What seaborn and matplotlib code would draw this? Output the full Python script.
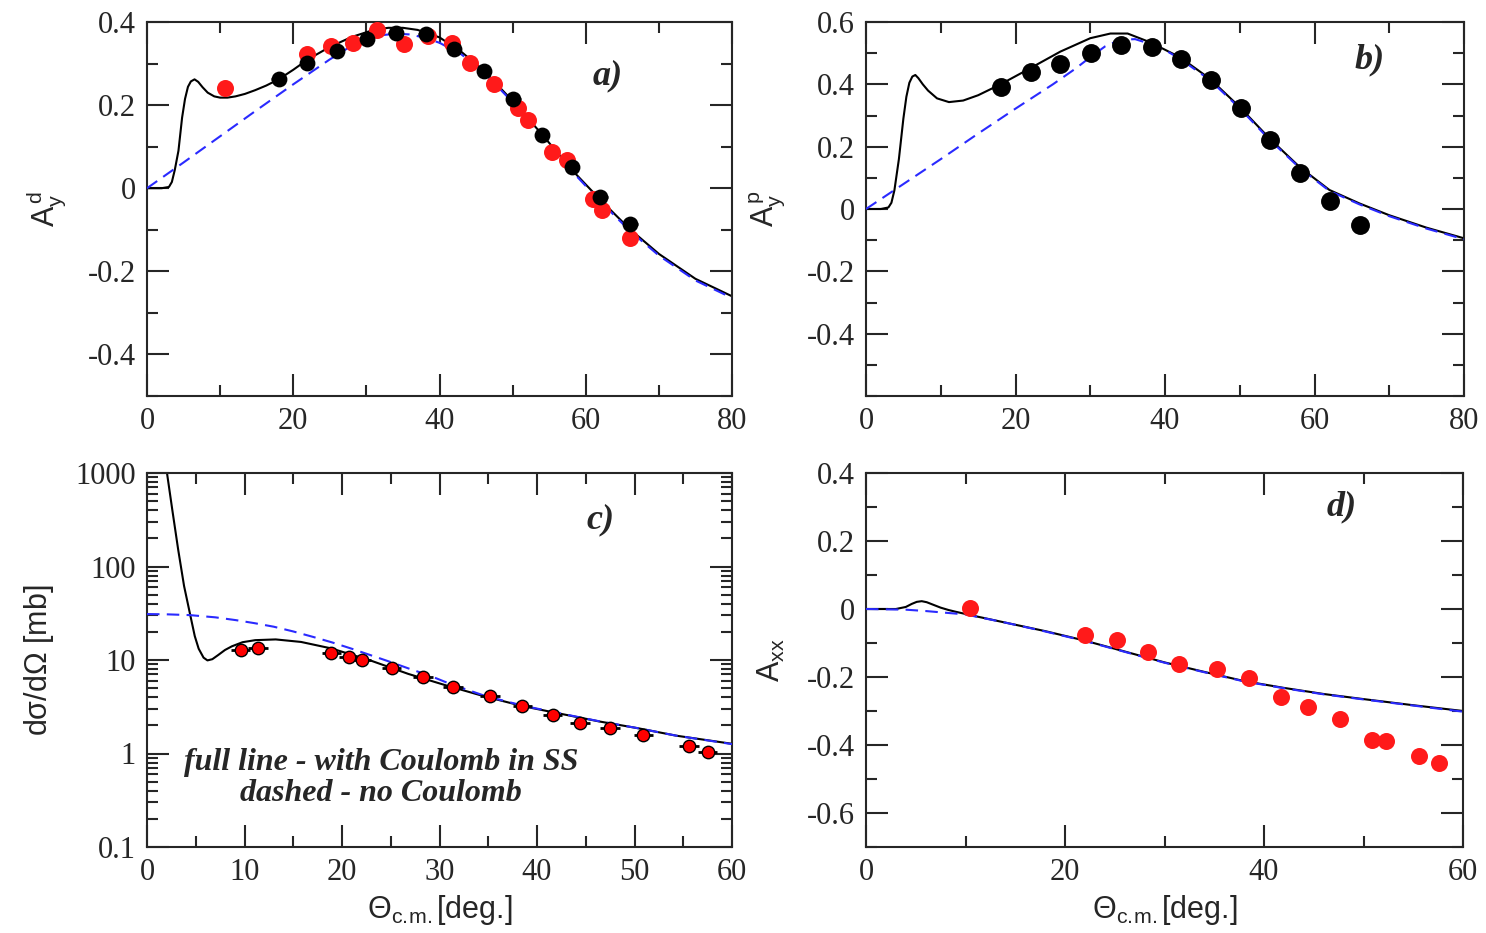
import numpy as np
import pandas as pd
import matplotlib
matplotlib.use("Agg")
import matplotlib.pyplot as plt
import seaborn as sns
from matplotlib.ticker import MultipleLocator, FixedLocator, LogLocator, NullFormatter

# ---------------- panel a) A_y^d ----------------
a_red_x = [10.6, 21.9, 25.1, 28.2, 31.4, 35.2, 38.4, 41.7, 44.2, 47.5, 50.7, 52.1, 55.4, 57.4, 61.0, 62.2, 66.0]
a_red_y = [0.242, 0.324, 0.342, 0.350, 0.380, 0.348, 0.366, 0.350, 0.302, 0.250, 0.194, 0.164, 0.086, 0.068, -0.026, -0.052, -0.120]
a_blk_x = [18.0, 21.9, 26.0, 30.1, 34.0, 38.1, 42.0, 46.1, 50.1, 54.0, 58.1, 62.0, 66.1]
a_blk_y = [0.262, 0.302, 0.330, 0.358, 0.374, 0.370, 0.336, 0.282, 0.214, 0.128, 0.050, -0.020, -0.086]
a_blk_xerr = [1.0] * 13
a_full_x = [0, 2, 3, 3.4, 3.8, 4.3, 4.8, 5.2, 5.6, 6.0, 6.5, 7.0, 7.6, 8.3, 9.2, 10, 11, 12.1, 13.4, 14.8, 16.3, 18, 20, 22, 25, 28, 31, 33, 35, 37, 40, 43, 46, 50, 54, 58, 62, 66, 70, 75, 80]
a_full_y = [0, 0, 0.003, 0.015, 0.044, 0.09, 0.17, 0.215, 0.244, 0.257, 0.262, 0.256, 0.243, 0.23, 0.221, 0.218, 0.218, 0.221, 0.227, 0.236, 0.247, 0.262, 0.285, 0.31, 0.34, 0.364, 0.381, 0.386, 0.386, 0.381, 0.363, 0.328, 0.284, 0.21, 0.13, 0.046, -0.028, -0.098, -0.158, -0.218, -0.26]
a_dash_x = [0, 5, 10, 15, 20, 25, 28, 30, 32, 34, 36, 38, 40, 43, 46, 50, 54, 58, 62, 66, 70, 75, 80]
a_dash_y = [0, 0.062, 0.125, 0.188, 0.25, 0.31, 0.343, 0.359, 0.368, 0.372, 0.37, 0.362, 0.35, 0.322, 0.28, 0.207, 0.127, 0.043, -0.032, -0.102, -0.162, -0.222, -0.264]

# ---------------- panel b) A_y^p ----------------
b_blk_x = [18.1, 22.1, 26.0, 30.1, 34.1, 38.2, 42.1, 46.1, 50.2, 54.1, 58.1, 62.1, 66.1]
b_blk_y = [0.393, 0.439, 0.466, 0.501, 0.527, 0.519, 0.482, 0.413, 0.324, 0.221, 0.117, 0.026, -0.051]
b_blk_xerr = [0.9] * 13
b_full_x = [0, 2, 3, 3.4, 3.8, 4.4, 5.0, 5.4, 5.8, 6.2, 6.6, 7.0, 7.6, 8.3, 9.5, 11.1, 13, 15, 18, 22, 26, 30, 32.7, 35, 38, 42, 46, 50, 54, 58, 62, 66, 70, 75, 80]
b_full_y = [0, 0, 0.005, 0.02, 0.06, 0.16, 0.29, 0.36, 0.405, 0.425, 0.43, 0.42, 0.40, 0.38, 0.355, 0.343, 0.348, 0.365, 0.40, 0.452, 0.505, 0.548, 0.563, 0.563, 0.535, 0.487, 0.418, 0.327, 0.226, 0.135, 0.061, 0.018, -0.02, -0.06, -0.094]
b_dash_x = [0, 5, 10, 15, 20, 25, 28, 30, 32, 34, 36, 38, 40, 42, 46, 50, 54, 58, 62, 66, 70, 75, 80]
b_dash_y = [0, 0.08, 0.16, 0.242, 0.322, 0.40, 0.45, 0.487, 0.522, 0.543, 0.545, 0.53, 0.51, 0.482, 0.414, 0.323, 0.222, 0.132, 0.058, 0.015, -0.023, -0.063, -0.097]

# ---------------- panel c) dsigma/dOmega ----------------
c_pts_x = [9.6, 11.4, 18.9, 20.7, 22.0, 25.1, 28.3, 31.4, 35.2, 38.5, 41.6, 44.4, 47.5, 50.9, 55.6, 57.5]
c_pts_y = [12.9, 13.5, 12.0, 10.8, 9.9, 8.2, 6.6, 5.1, 4.1, 3.2, 2.56, 2.1, 1.86, 1.57, 1.19, 1.04]
c_pts_xerr = [1.0] * 16
c_full_x = [1.9, 2.05, 2.6, 3.2, 3.8, 4.4, 4.9, 5.3, 5.8, 6.2, 6.7, 7.3, 8.0, 8.7, 9.8, 11.1, 13.2, 15.8, 18.9, 22.9, 26.8, 30.7, 34.7, 38.6, 42.5, 46.4, 50.4, 54.3, 60]
c_full_y = [1500, 1000, 400, 151, 62, 31.5, 18, 13.2, 10.6, 9.9, 10.2, 11.3, 12.8, 14.0, 15.5, 16.3, 16.6, 15.6, 13.3, 9.9, 7.1, 5.34, 4.06, 3.2, 2.65, 2.2, 1.86, 1.55, 1.27]
c_dash_x = [0, 2, 4.4, 7, 9.1, 11, 13, 15, 17, 19, 21, 23, 25, 27, 29, 31, 34.7, 38.6, 42.5, 46.4, 50.4, 54.3, 60]
c_dash_y = [31, 30.8, 30.2, 28.6, 26.7, 24.8, 22.7, 20.2, 17.7, 15.4, 13.2, 11.2, 9.5, 8.0, 6.8, 5.6, 4.12, 3.24, 2.67, 2.21, 1.86, 1.55, 1.26]

# ---------------- panel d) A_xx ----------------
d_red_x = [10.5, 22.0, 25.2, 28.3, 31.5, 35.3, 38.5, 41.7, 44.4, 47.6, 50.9, 52.3, 55.6, 57.6]
d_red_y = [0.003, -0.076, -0.091, -0.125, -0.162, -0.176, -0.203, -0.26, -0.287, -0.323, -0.384, -0.389, -0.431, -0.454]
d_full_x = [0, 3, 4, 4.6, 5.1, 5.6, 6.1, 6.8, 7.5, 8.3, 9, 10.5, 14, 18, 22, 26, 30, 34, 38, 42, 46, 50, 55, 60]
d_full_y = [0, 0, 0.006, 0.015, 0.021, 0.023, 0.02, 0.012, 0.004, -0.003, -0.008, -0.018, -0.04, -0.065, -0.093, -0.125, -0.157, -0.185, -0.212, -0.232, -0.25, -0.265, -0.283, -0.3]
d_dash_x = [0, 4, 6, 8, 10, 14, 18, 22, 26, 30, 34, 38, 42, 46, 50, 55, 60]
d_dash_y = [0, -0.002, -0.006, -0.011, -0.016, -0.04, -0.066, -0.094, -0.126, -0.158, -0.186, -0.213, -0.233, -0.251, -0.266, -0.284, -0.302]

# tick labels
a_yticks = [-0.4, -0.2, 0, 0.2, 0.4]
a_ylabels = ["-0.4", "-0.2", "0", "0.2", "0.4"]
b_yticks = [-0.4, -0.2, 0, 0.2, 0.4, 0.6]
b_ylabels = ["-0.4", "-0.2", "0", "0.2", "0.4", "0.6"]
c_yticks = [0.1, 1, 10, 100, 1000]
c_ylabels = ["0.1", "1", "10", "100", "1000"]
d_yticks = [-0.6, -0.4, -0.2, 0, 0.2, 0.4]
d_ylabels = ["-0.6", "-0.4", "-0.2", "0", "0.2", "0.4"]
ab_xticks = [0, 20, 40, 60, 80]
c_xticks = [0, 10, 20, 30, 40, 50, 60]
d_xticks = [0, 20, 40, 60]

sns.set_style("ticks")
plt.rcParams["font.family"] = ["Liberation Serif", "DejaVu Serif"]
plt.rcParams["mathtext.fontset"] = "custom"
plt.rcParams["mathtext.rm"] = "Liberation Sans"
plt.rcParams["mathtext.it"] = "Liberation Sans"

fig = plt.figure(figsize=(14.86, 9.33), dpi=100)
W, H = 1486, 933


def make_ax(l, r, t, b):
    return fig.add_axes([l / W, 1 - b / H, (r - l) / W, (b - t) / H])


ax_a = make_ax(147, 732, 22, 396)
ax_b = make_ax(866, 1464, 22, 396)
ax_c = make_ax(147, 732, 473, 847)
ax_d = make_ax(866, 1463, 473, 847)

LAB = dict(family="Liberation Sans", fontsize=22)
XLAB = r"$\mathrm{\Theta_{c.\!m.}}$[deg.]"


def curves(ax, fx, fy, dx, dy):
    sns.lineplot(x=dx, y=dy, ax=ax, color="#2a2aff", lw=1.5, sort=False,
                 linestyle=(0, (6, 3.5)), zorder=3)
    sns.lineplot(x=fx, y=fy, ax=ax, color="black", lw=1.5, sort=False, zorder=2)


def style(ax):
    for s in ax.spines.values():
        s.set_linewidth(1.5)
    ax.tick_params(which="both", direction="in", top=True, right=True, width=1.5,
                   labelsize=22, pad=8)
    ax.tick_params(which="major", length=16)
    ax.tick_params(which="minor", length=8)


def label(ax, x, y, s):
    ax.text(x, y, s, fontsize=26, fontweight="bold", style="italic", ha="center", va="center")


# panel a
curves(ax_a, a_full_x, a_full_y, a_dash_x, a_dash_y)
ax_a.errorbar(a_blk_x, a_blk_y, xerr=a_blk_xerr, fmt="none", ecolor="black", elinewidth=1.8, zorder=4)
sns.scatterplot(x=a_red_x, y=a_red_y, ax=ax_a, color="#ff1a1a", s=150, linewidth=0, zorder=5)
sns.scatterplot(x=a_blk_x, y=a_blk_y, ax=ax_a, color="black", s=130, linewidth=0, zorder=6)
ax_a.set_xlim(0, 80)
ax_a.set_ylim(-0.5, 0.4)
ax_a.set_xticks(ab_xticks)
ax_a.set_yticks(a_yticks, a_ylabels)
ax_a.xaxis.set_minor_locator(MultipleLocator(10))
ax_a.yaxis.set_minor_locator(MultipleLocator(0.1))
ax_a.set_ylabel(r"$\mathrm{A_y^{\,d}}$", labelpad=14, **LAB)
label(ax_a, 63, 0.27, "a)")

# panel b
curves(ax_b, b_full_x, b_full_y, b_dash_x, b_dash_y)
ax_b.errorbar(b_blk_x, b_blk_y, xerr=b_blk_xerr, fmt="none", ecolor="black", elinewidth=1.8, zorder=4)
sns.scatterplot(x=b_blk_x, y=b_blk_y, ax=ax_b, color="black", s=185, linewidth=0, zorder=6)
ax_b.set_xlim(0, 80)
ax_b.set_ylim(-0.6, 0.6)
ax_b.set_xticks(ab_xticks)
ax_b.set_yticks(b_yticks, b_ylabels)
ax_b.xaxis.set_minor_locator(MultipleLocator(10))
ax_b.yaxis.set_minor_locator(MultipleLocator(0.1))
ax_b.set_ylabel(r"$\mathrm{A_y^{\,p}}$", labelpad=14, **LAB)
label(ax_b, 67.4, 0.478, "b)")

# panel c
ax_c.set_yscale("log")
curves(ax_c, c_full_x, c_full_y, c_dash_x, c_dash_y)
ax_c.errorbar(c_pts_x, c_pts_y, xerr=c_pts_xerr, fmt="none", ecolor="black", elinewidth=2.0, zorder=4)
sns.scatterplot(x=c_pts_x, y=c_pts_y, ax=ax_c, color="#ff0000", s=80, edgecolor="black", linewidth=1.0, zorder=6)
ax_c.set_xlim(0, 60)
ax_c.set_ylim(0.1, 1000)
ax_c.set_xticks(c_xticks)
ax_c.xaxis.set_minor_locator(MultipleLocator(5))
ax_c.yaxis.set_major_locator(FixedLocator(c_yticks))
ax_c.set_yticklabels(c_ylabels)
ax_c.yaxis.set_minor_locator(LogLocator(base=10, subs=np.arange(2, 10)))
ax_c.yaxis.set_minor_formatter(NullFormatter())
ax_c.set_ylabel(r"d$\mathrm{\sigma}$/d$\mathrm{\Omega}$ [mb]", labelpad=14, **LAB)
ax_c.set_xlabel(XLAB, labelpad=4, **LAB)
label(ax_c, 46.5, 316, "c)")
ax_c.text(0.40, 0.185, "full line - with Coulomb in SS\ndashed - no Coulomb", transform=ax_c.transAxes,
          fontsize=23, fontweight="bold", style="italic", ha="center", va="center",
          multialignment="center", linespacing=1.1)

# panel d
curves(ax_d, d_full_x, d_full_y, d_dash_x, d_dash_y)
sns.scatterplot(x=d_red_x, y=d_red_y, ax=ax_d, color="#ff1a1a", s=150, linewidth=0, zorder=6)
ax_d.set_xlim(0, 60)
ax_d.set_ylim(-0.7, 0.4)
ax_d.set_xticks(d_xticks)
ax_d.set_yticks(d_yticks, d_ylabels)
ax_d.xaxis.set_minor_locator(MultipleLocator(10))
ax_d.yaxis.set_minor_locator(MultipleLocator(0.1))
ax_d.set_ylabel(r"$\mathrm{A_{xx}}$", labelpad=14, **LAB)
ax_d.set_xlabel(XLAB, labelpad=4, **LAB)
label(ax_d, 47.8, 0.3, "d)")

for ax in (ax_a, ax_b, ax_c, ax_d):
    style(ax)
    if ax.get_legend():
        ax.get_legend().remove()

fig.savefig("out.png", dpi=100)
